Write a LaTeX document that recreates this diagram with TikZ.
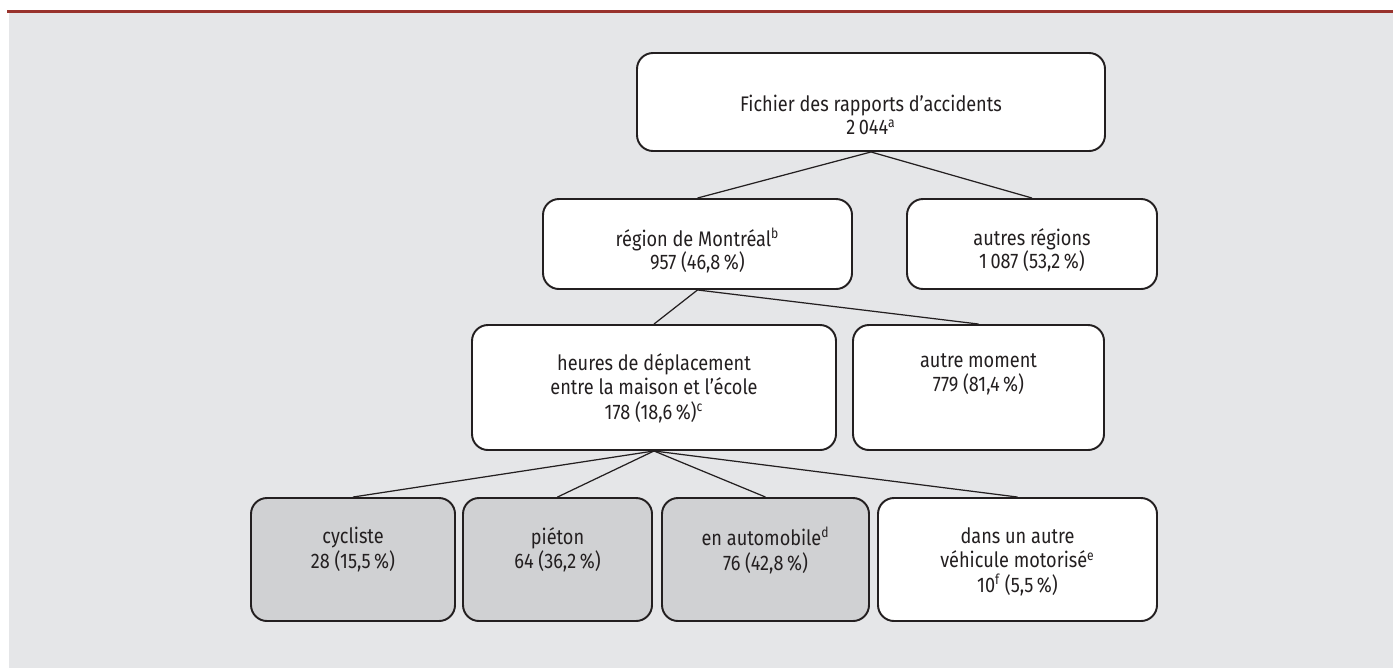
\documentclass[tikz,border=0pt]{standalone}
\usepackage{fontspec}
\setmainfont{Fira Sans}[FakeStretch=0.86]
\usepackage{tikz}
\usetikzlibrary{positioning}
\definecolor{panelgray}{RGB}{229,230,232}
\definecolor{rulered}{RGB}{153,51,45}
\definecolor{cellgray}{RGB}{208,209,211}
\definecolor{inkdark}{RGB}{35,31,32}

\begin{document}
\begin{tikzpicture}[
    cell/.style={rectangle, draw=inkdark, line width=1.1pt, fill=white,
                 rounded corners=0.32cm},
    greycell/.style={cell, fill=cellgray},
    celltext/.style={align=center, inner sep=0pt, text=inkdark,
                     font=\fontsize{12}{14}\selectfont},
    tighttext/.style={celltext, font=\fontsize{12}{13}\selectfont},
    link/.style={draw=inkdark, line width=0.7pt}
]
    % panel and top rule
    \useasboundingbox (0,0) rectangle (27.86,-13.36);
    \fill[panelgray] (0.18,-0.26) rectangle (27.86,-13.36);
    \fill[rulered] (0.14,-0.2) rectangle (27.86,-0.26);

    % boxes
    \node[cell, minimum width=9.36cm, minimum height=1.96cm] (file) at (17.42,-2.04) {};
    \node[cell, minimum width=6.18cm, minimum height=1.8cm] (mtl) at (13.95,-4.88) {};
    \node[cell, minimum width=5cm, minimum height=1.8cm] (other) at (20.64,-4.88) {};
    \node[cell, minimum width=7.28cm, minimum height=2.5cm] (commute) at (13.08,-7.75) {};
    \node[cell, minimum width=5.02cm, minimum height=2.5cm] (moment) at (19.57,-7.75) {};
    \node[greycell, minimum width=4.08cm, minimum height=2.46cm] (bike) at (7.06,-11.19) {};
    \node[greycell, minimum width=3.78cm, minimum height=2.46cm] (walk) at (11.15,-11.19) {};
    \node[greycell, minimum width=4.14cm, minimum height=2.46cm] (car) at (15.31,-11.19) {};
    \node[cell, minimum width=5.58cm, minimum height=2.46cm] (motor) at (20.35,-11.19) {};

    % texts
    \node[tighttext, below=0.86cm of file.north] (filetxt)
        {Fichier des rapports d’accidents\\2\,044\textsuperscript{a}};
    \node[tighttext, below=0.6cm of mtl.north] (mtltxt)
        {région de Montréal\textsuperscript{b}\\957 (46,8\,\%)};
    \node[tighttext, below=0.6cm of other.north] (othertxt)
        {autres régions\\1\,087 (53,2\,\%)};
    \node[celltext, below=0.58cm of commute.north] (commutetxt)
        {heures de déplacement\\entre la maison et l’école\\178 (18,6\,\%)\textsuperscript{c}};
    \node[celltext, below=0.58cm of moment.north] (momenttxt)
        {autre moment\\779 (81,4\,\%)};
    \node[celltext, below=0.6cm of bike.north] (biketxt)
        {cycliste\\28 (15,5\,\%)};
    \node[celltext, below=0.6cm of walk.north] (walktxt)
        {piéton\\64 (36,2\,\%)};
    \node[celltext, below=0.6cm of car.north] (cartxt)
        {en automobile\textsuperscript{d}\\76 (42,8\,\%)};
    \node[celltext, below=0.6cm of motor.north] (motortxt)
        {dans un autre\\véhicule motorisé\textsuperscript{e}\\10\textsuperscript{f} (5,5\,\%)};

    % connectors
    \draw[link] (mtl.north) -- (file.south) -- (other.north);
    \draw[link] (commute.north) -- (mtl.south) -- (moment.north);
    \foreach \kid in {bike, walk, car, motor}
        \draw[link] (commute.south) -- (\kid.north);
\end{tikzpicture}
\end{document}
